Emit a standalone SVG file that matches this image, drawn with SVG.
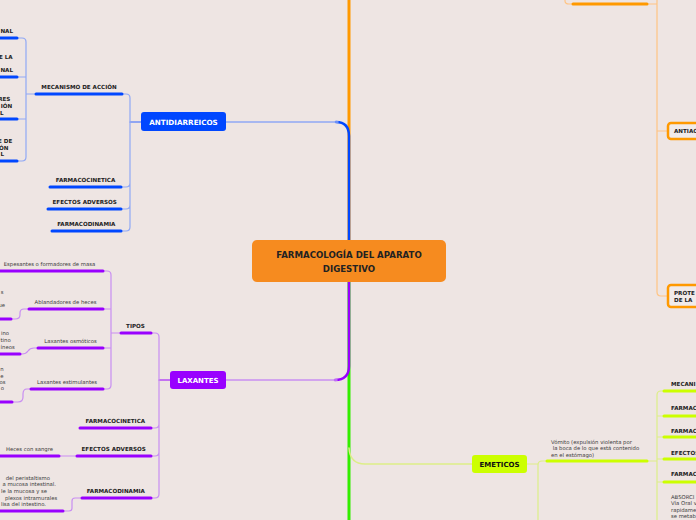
<svg xmlns="http://www.w3.org/2000/svg" width="696" height="520" viewBox="0 0 696 520">
<style>
.bg{fill:#EEE5E3}
.c{fill:none;stroke-linecap:round;stroke-linejoin:round}
.ul{fill:none;stroke-width:3;stroke-linecap:round}
.lb{font-family:"DejaVu Sans",Verdana,sans-serif;font-weight:bold;font-size:5.6px;fill:#222}
.tx{font-family:"DejaVu Sans",Verdana,sans-serif;font-size:5.3px;fill:#3a3a3a}
.nt{font-family:"DejaVu Sans",Verdana,sans-serif;font-weight:bold;font-size:7.2px;fill:#fff;text-anchor:middle}
.m{text-anchor:middle}
.e{text-anchor:end}
.blue{stroke:#0047FF}
.lblue{stroke:#90A8F5}
.purp{stroke:#9900FF}
.lpurp{stroke:#C98EF2}
.orng{stroke:#FF9900}
.lorng{stroke:#FFC483}
.ygrn{stroke:#CCFF00}
.lygrn{stroke:#DDEE88}
</style>
<rect class="bg" x="0" y="0" width="696" height="520"/>

<g id="connectors">
  <!-- main trunk -->
  <path class="c orng" stroke-width="3" d="M349,240 V0"/>
  <path class="c" stroke="#33EE00" stroke-width="3" d="M349,282 V520"/>
  <path class="c blue" stroke-width="2.5" d="M349,240 V136 Q349,122 336,122"/>
  <path class="c lblue" stroke-width="1.5" d="M338,122 H226"/>
  <path class="c purp" stroke-width="2.5" d="M349,282 V366 Q349,380 335,380"/>
  <path class="c lpurp" stroke-width="1.5" d="M337,380 H226"/>
  <path class="c lygrn" stroke-width="1.5" d="M349,448 Q350,464 365,464 H472"/>

  <!-- antidiarreicos -->
  <path class="c" stroke="#3366FF" stroke-width="1.2" d="M141,122 H130"/>
  <path class="c lblue" stroke-width="1.2" d="M122,94 H126 Q130,94 130,98 V227 Q130,231 126,231 H122 M130,183 Q130,187 126,187 H121 M130,205 Q130,209 126,209 H121"/>
  <path class="c lblue" stroke-width="1.2" d="M36,94 H26 M17,38 H22 Q26,38 26,42 V157 Q26,161 22,161 H17 M26,77 H17 M26,119 H17"/>
  <path class="ul blue" d="M36,94 H122 M50,187 H121 M48,209 H121 M52,231 H121"/>
  <path class="ul blue" d="M-3,38 H17 M-3,77 H17 M-3,119 H17 M-3,161 H17"/>

  <!-- laxantes -->
  <path class="c purp" stroke-width="1.2" d="M170,380 H159"/>
  <path class="c lpurp" stroke-width="1.2" d="M151,333 H155 Q159,333 159,337 V494 Q159,498 155,498 H151 M159,424 Q159,428 155,428 H151 M159,452 Q159,456 155,456 H151"/>
  <path class="c lpurp" stroke-width="1.2" d="M121,333 H111 M103,271 H107 Q111,271 111,275 V385 Q111,389 107,389 H103 M111,309 H103 M111,348 H103"/>
  <path class="c lpurp" stroke-width="1.2" d="M29,309 H24 Q20,309 20,313 V315 Q20,319 15,319 H11 M38,348 H34 Q30,348 28,351 Q26,354 22,354 H20 M31,389 H27 Q23,389 23,394 V397 Q23,402 18,402 H12 M77,456 H59 M82,498 H75 Q72,498 72,501 V508 Q72,511 69,511 H63"/>
  <path class="ul purp" d="M121,333 H151 M80,428 H151 M77,456 H151 M82,498 H151"/>
  <path class="ul purp" d="M-3,271 H103 M29,309 H103 M38,348 H103 M31,389 H103"/>
  <path class="ul purp" d="M-3,319 H11 M-3,354 H20 M-3,402 H12 M-3,456 H59 M-3,511 H63"/>

  <!-- orange right -->
  <path class="c lorng" stroke-width="1.2" d="M565,-2 V1 Q565,4 569,4 H573 M647,4 H657 M657,-2 V292 Q657,296 661,296 H668 M657,131 H668"/>
  <path class="ul orng" d="M573,4 H647"/>

  <!-- emeticos right -->
  <path class="c lygrn" stroke-width="1.2" d="M527,464 H538 M538,522 V465 Q538,461 542,461 H547 M647,461 H657 M657,522 V395 Q657,391 661,391 H664 M657,416 H664 M657,437 H664 M657,459 H664 M657,482 H664"/>
  <path class="ul ygrn" d="M547,461 H647 M664,391 H700 M664,416 H700 M664,437 H700 M664,459 H700 M664,482 H700"/>
</g>

<g id="central">
  <rect x="252" y="240" width="194" height="42" rx="5" fill="#F68B1F"/>
  <text class="lb m" x="349" y="258" style="font-size:8.6px">FARMACOLOGÍA DEL APARATO</text>
  <text class="lb m" x="349" y="271.5" style="font-size:8.6px">DIGESTIVO</text>
</g>

<g id="antidiarreicos">
  <rect x="141" y="112" width="85" height="19" rx="3" fill="#0047FF"/>
  <text class="nt" x="183.5" y="124.5">ANTIDIARREICOS</text>
</g>
<g id="ad-mecanismo"><text class="lb m" x="79" y="88.7">MECANISMO DE ACCIÓN</text></g>
<g id="ad-farmacocinetica"><text class="lb m" x="85.5" y="182">FARMACOCINETICA</text></g>
<g id="ad-efectos"><text class="lb m" x="84.7" y="204">EFECTOS ADVERSOS</text></g>
<g id="ad-farmacodinamia"><text class="lb m" x="86.3" y="226">FARMACODINAMIA</text></g>
<g id="mec-1"><text class="lb e" x="13" y="33">NAL</text></g>
<g id="mec-2"><text class="lb e" x="12.7" y="59">E LA</text><text class="lb e" x="13" y="72">NAL</text></g>
<g id="mec-3"><text class="lb e" x="10.3" y="101">RES</text><text class="lb e" x="12.3" y="108">IÓN</text><text class="lb e" x="3.5" y="114.5">L</text></g>
<g id="mec-4"><text class="lb e" x="12.3" y="143">E DE</text><text class="lb e" x="8.3" y="149.5">ÓN</text><text class="lb e" x="4" y="156">L</text></g>

<g id="laxantes">
  <rect x="170" y="371" width="56" height="18" rx="3" fill="#9900FF"/>
  <text class="nt" x="198" y="383" style="font-size:7px">LAXANTES</text>
</g>
<g id="lx-tipos"><text class="lb m" x="135.5" y="328">TIPOS</text></g>
<g id="lx-farmacocinetica"><text class="lb m" x="115.3" y="423">FARMACOCINETICA</text></g>
<g id="lx-efectos"><text class="lb m" x="113.7" y="451">EFECTOS ADVERSOS</text></g>
<g id="lx-farmacodinamia"><text class="lb m" x="115.8" y="493">FARMACODINAMIA</text></g>
<g id="lx-espesantes"><text class="tx m" x="49.5" y="266.3">Espesantes o formadores de masa</text></g>
<g id="lx-ablandadores"><text class="tx m" x="65.5" y="304.3">Ablandadores de heces</text></g>
<g id="lx-osmoticos"><text class="tx m" x="70.5" y="343">Laxantes osmóticos</text></g>
<g id="lx-estimulantes"><text class="tx m" x="67" y="384.3">Laxantes estimulantes</text></g>
<g id="lx-ablandadores-d"><text class="tx e" x="3.5" y="294">s</text><text class="tx e" x="5" y="307">ue</text></g>
<g id="lx-osmoticos-d"><text class="tx e" x="9" y="335.3">ino</text><text class="tx e" x="10.7" y="342">tino</text><text class="tx e" x="14.7" y="348.7">íneos</text></g>
<g id="lx-estimulantes-d"><text class="tx e" x="3.5" y="371">n</text><text class="tx e" x="3.5" y="377.5">e</text><text class="tx e" x="5.5" y="384">os</text><text class="tx e" x="4" y="390">o</text></g>
<g id="lx-heces"><text class="tx m" x="29.5" y="451">Heces con sangre</text></g>
<g id="lx-farmacodinamia-d">
  <text class="tx e" x="50" y="479.5">del peristaltismo</text>
  <text class="tx e" x="56" y="486.2">a mucosa  intestinal.</text>
  <text class="tx e" x="47" y="492.9">le la mucosa y se</text>
  <text class="tx e" x="57.3" y="499.6">plexos intramurales</text>
  <text class="tx e" x="46" y="506.3">lisa del intestino.</text>
</g>

<g id="antiac">
  <rect x="668" y="123" width="40" height="16" rx="3" fill="#F1EBEA" stroke="#FF9900" stroke-width="2.5"/>
  <text class="lb" x="674" y="133">ANTIAC</text>
</g>
<g id="protectores">
  <rect x="668" y="285" width="40" height="22" rx="3" fill="#F1EBEA" stroke="#FF9900" stroke-width="2.5"/>
  <text class="lb" x="674" y="294.5">PROTE</text>
  <text class="lb" x="674" y="302">DE LA</text>
</g>

<g id="emeticos">
  <rect x="472" y="455" width="55" height="18" rx="3" fill="#CCFF00"/>
  <text class="nt" x="499.5" y="466.5" style="fill:#111;font-size:7px">EMETICOS</text>
</g>
<g id="em-vomito">
  <text class="tx" x="551" y="443.5">Vómito (expulsión violenta por</text>
  <text class="tx" x="551" y="450.3" xml:space="preserve"> la boca de lo que está contenido</text>
  <text class="tx" x="551" y="457.1">en el estómago)</text>
</g>
<g id="em-mecanismo"><text class="lb" x="671" y="386.3">MECANI</text></g>
<g id="em-farmaco-1"><text class="lb" x="671" y="410.3">FARMAC</text></g>
<g id="em-farmaco-2"><text class="lb" x="671" y="433">FARMAC</text></g>
<g id="em-efectos"><text class="lb" x="671" y="455.3">EFECTOS</text></g>
<g id="em-farmaco-3"><text class="lb" x="671" y="476.3">FARMAC</text></g>
<g id="em-absorcion">
  <text class="tx" x="671" y="498.5">ABSORCI</text>
  <text class="tx" x="671" y="505">Vía Oral v</text>
  <text class="tx" x="671" y="511.5">rapidame</text>
  <text class="tx" x="671" y="518">se metab</text>
</g>
</svg>
